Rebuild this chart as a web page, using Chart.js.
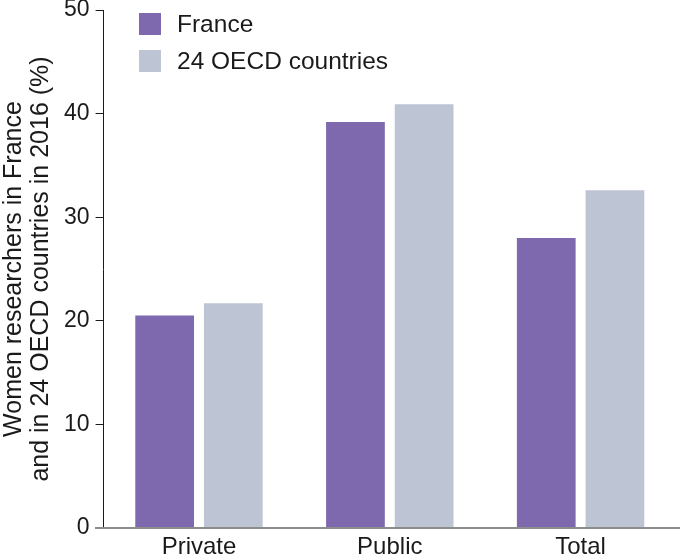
<!DOCTYPE html>
<html>
<head>
<meta charset="utf-8">
<script src="https://cdn.jsdelivr.net/npm/chart.js@4"></script>
<style>
    html, body { margin: 0; padding: 0; background: #fff; }
    #box { width: 680px; height: 558px; }
</style>
</head>
<body>
<div id="box"><canvas id="myChart"></canvas></div>
<script>
var categorias = [`Private`, `Public`, `Total`];
var nomes_series = [`France`, `24 OECD countries`];
var valores_franca = [20.5, 39.2, 28.0];
var valores_ocde = [21.7, 40.9, 32.6];
var ticks_y = [0, 10, 20, 30, 40, 50];
var titulo_y = [`Women researchers in France`, `and in 24 OECD countries in 2016 (%)`];

var cores = ['#7e68ae', '#bdc4d4'];
var fonte = '"Liberation Sans", Arial, sans-serif';

// legenda desenhada dentro da area do grafico (canto superior esquerdo)
var legenda = {
    id: 'legenda',
    afterDraw: function (chart) {
        var ctx = chart.ctx;
        ctx.save();
        ctx.font = '24.5px ' + fonte;
        ctx.textBaseline = 'middle';
        ctx.textAlign = 'left';
        chart.data.datasets.forEach(function (ds, i) {
            var y = 13 + i * 37;
            ctx.fillStyle = ds.backgroundColor;
            ctx.fillRect(139, y, 22, 22);
            ctx.fillStyle = '#1a1a1a';
            ctx.fillText(ds.label, 177, y + 12);
        });
        ctx.restore();
    }
};

// linha de base cinza que passa um pouco do eixo y
var base = {
    id: 'base',
    afterDatasetsDraw: function (chart) {
        var ctx = chart.ctx;
        var y = chart.scales.y.getPixelForValue(0);
        ctx.save();
        ctx.strokeStyle = '#8c8c8c';
        ctx.lineWidth = 2;
        ctx.beginPath();
        ctx.moveTo(95, y);
        ctx.lineTo(680, y);
        ctx.stroke();
        ctx.restore();
    }
};

const ctx = document.getElementById('myChart');
new Chart(ctx, {
    type: 'bar',
    data: {
        labels: categorias,
        datasets: [{
            label: nomes_series[0],
            data: valores_franca,
            backgroundColor: cores[0],
            categoryPercentage: 0.72,
            barPercentage: 0.855
        }, {
            label: nomes_series[1],
            data: valores_ocde,
            backgroundColor: cores[1],
            categoryPercentage: 0.72,
            barPercentage: 0.855
        }]
    },
    options: {
        responsive: true,
        maintainAspectRatio: false,
        animation: false,
        layout: { padding: { top: 10, right: 4, left: 0, bottom: -8 } },
        plugins: {
            legend: { display: false },
            tooltip: { enabled: false }
        },
        scales: {
            x: {
                grid: { display: false, drawTicks: false },
                border: { display: false },
                ticks: { color: '#1a1a1a', font: { family: fonte, size: 24, lineHeight: 1 }, padding: 7 }
            },
            y: {
                min: 0,
                max: 50,
                afterBuildTicks: function (axis) {
                    axis.ticks = ticks_y.map(function (v) { return { value: v }; });
                },
                afterFit: function (axis) {
                    axis.paddingTop = 0;
                    axis.paddingBottom = 0;
                },
                grid: { drawOnChartArea: false, tickLength: 8, color: '#1a1a1a', lineWidth: 1 },
                border: { color: '#1a1a1a', width: 1 },
                ticks: { color: '#1a1a1a', font: { family: fonte, size: 23 }, padding: 6 },
                title: {
                    display: true,
                    text: titulo_y,
                    color: '#1a1a1a',
                    font: { family: fonte, size: 25, lineHeight: 1.1 },
                    padding: { top: 0, bottom: 3 }
                }
            }
        }
    },
    plugins: [legenda, base]
});
</script>
</body>
</html>
